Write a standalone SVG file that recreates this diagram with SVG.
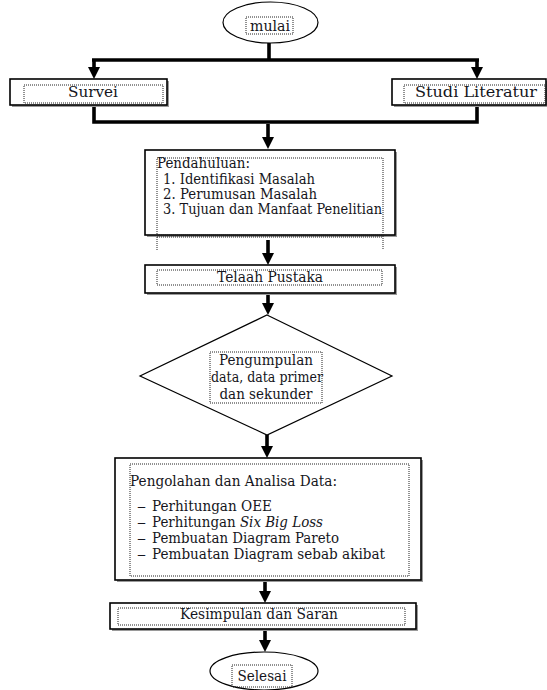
<svg xmlns="http://www.w3.org/2000/svg" width="547" height="690" viewBox="0 0 547 690">
<style>
.bg{fill:#fff}
.box{fill:#fff;stroke:#000;stroke-width:1.6}
.sh{fill:#9a9a9a}
.ell{fill:#fff;stroke:#000;stroke-width:1.2}
.dot{fill:none;stroke:#222;stroke-width:1;stroke-dasharray:1 1}
.t{font-family:"DejaVu Serif","Liberation Serif",serif;font-size:14px;fill:#151520}
.c{text-anchor:middle}
.conn{fill:none;stroke:#000;stroke-width:3.6;stroke-linejoin:miter}
.ar{fill:none;stroke:#000;stroke-width:3.6;marker-end:url(#ah)}
</style>
<defs>
<marker id="ah" markerUnits="userSpaceOnUse" viewBox="0 0 12 12" markerWidth="12" markerHeight="12" refX="8" refY="6" orient="auto">
<path d="M0,0 L12,6 L0,12 z" fill="#000"/>
</marker>
</defs>
<rect class="bg" x="0" y="0" width="547" height="690"/>

<g id="connectors">
<path class="conn" d="M269,43 V60"/>
<path class="conn" d="M92,60 H479"/>
<path class="ar" d="M94,60 V75"/>
<path class="ar" d="M477,60 V75"/>
<path class="conn" d="M94,105 V122 H477 V105"/>
<path class="ar" d="M268,124 V145"/>
<path class="ar" d="M268,240 V261"/>
<path class="ar" d="M268,294 V311"/>
<path class="ar" d="M267,435 V454"/>
<path class="ar" d="M265,581 V599"/>
<path class="ar" d="M265,630 V648"/>
</g>

<g id="mulai">
<ellipse class="ell" cx="270.5" cy="22.5" rx="47.5" ry="20.5"/>
<rect class="dot" x="246" y="17" width="47" height="17"/>
<text class="t c" x="270" y="31" textLength="40" lengthAdjust="spacingAndGlyphs">mulai</text>
</g>

<g id="survei">
<rect class="sh" x="12" y="81" width="157" height="26"/>
<rect class="box" x="10" y="79" width="157" height="26"/>
<rect class="dot" x="24" y="85" width="139" height="18"/>
<text class="t c" x="93" y="97" textLength="50" lengthAdjust="spacingAndGlyphs">Survei</text>
</g>

<g id="studi">
<rect class="sh" x="394" y="81" width="154" height="26"/>
<rect class="box" x="392" y="79" width="154" height="26"/>
<rect class="dot" x="404" y="85" width="141" height="18"/>
<text class="t c" x="476" y="97" textLength="122" lengthAdjust="spacingAndGlyphs">Studi Literatur</text>
</g>

<g id="pendahuluan">
<rect class="sh" x="147" y="152" width="250" height="85"/>
<rect class="box" x="145" y="150" width="250" height="85"/>
<path class="dot" d="M157,250 V158 H383 V250 M157,235 H383 M157,237 H383"/>
<text class="t" x="157" y="168" textLength="93" lengthAdjust="spacingAndGlyphs">Pendahuluan:</text>
<text class="t" x="163" y="184" textLength="152" lengthAdjust="spacingAndGlyphs">1. Identifikasi Masalah</text>
<text class="t" x="163" y="199" textLength="154" lengthAdjust="spacingAndGlyphs">2. Perumusan Masalah</text>
<text class="t" x="163" y="214" textLength="219" lengthAdjust="spacingAndGlyphs">3. Tujuan dan Manfaat Penelitian</text>
</g>

<g id="telaah">
<rect class="sh" x="147" y="267" width="250" height="28"/>
<rect class="box" x="145" y="265" width="250" height="28"/>
<rect class="dot" x="157" y="270" width="225" height="15"/>
<text class="t c" x="270" y="282" textLength="106" lengthAdjust="spacingAndGlyphs">Telaah Pustaka</text>
</g>

<g id="pengumpulan">
<polygon points="267,315 392,376 267,435 140,376" fill="#fff" stroke="#000" stroke-width="1.2"/>
<rect class="dot" x="210" y="352" width="112" height="51"/>
<text class="t c" x="266" y="365" textLength="94" lengthAdjust="spacingAndGlyphs">Pengumpulan</text>
<text class="t c" x="267" y="382" textLength="112" lengthAdjust="spacingAndGlyphs">data, data primer</text>
<text class="t c" x="266" y="399" textLength="93" lengthAdjust="spacingAndGlyphs">dan sekunder</text>
</g>

<g id="pengolahan">
<rect class="sh" x="117" y="460" width="306" height="122"/>
<rect class="box" x="115" y="458" width="306" height="122"/>
<rect class="dot" x="130" y="464" width="279" height="112"/>
<text class="t" x="130" y="486" textLength="207" lengthAdjust="spacingAndGlyphs">Pengolahan dan Analisa Data:</text>
<text class="t" x="137" y="511" textLength="9" lengthAdjust="spacingAndGlyphs">–</text>
<text class="t" x="152" y="511" textLength="120" lengthAdjust="spacingAndGlyphs">Perhitungan OEE</text>
<text class="t" x="137" y="527" textLength="9" lengthAdjust="spacingAndGlyphs">–</text>
<text class="t" x="152" y="527" textLength="171" lengthAdjust="spacingAndGlyphs">Perhitungan <tspan font-style="italic">Six Big Loss</tspan></text>
<text class="t" x="137" y="543" textLength="9" lengthAdjust="spacingAndGlyphs">–</text>
<text class="t" x="152" y="543" textLength="187" lengthAdjust="spacingAndGlyphs">Pembuatan Diagram Pareto</text>
<text class="t" x="137" y="559" textLength="9" lengthAdjust="spacingAndGlyphs">–</text>
<text class="t" x="152" y="559" textLength="233" lengthAdjust="spacingAndGlyphs">Pembuatan Diagram sebab akibat</text>
</g>

<g id="kesimpulan">
<rect class="sh" x="112" y="605" width="306" height="26"/>
<rect class="box" x="110" y="603" width="306" height="26"/>
<rect class="dot" x="118" y="608" width="287" height="17"/>
<text class="t c" x="259" y="619" textLength="158" lengthAdjust="spacingAndGlyphs">Kesimpulan dan Saran</text>
</g>

<g id="selesai">
<ellipse class="ell" cx="264" cy="671" rx="54" ry="19"/>
<rect class="dot" x="232" y="665" width="60" height="22"/>
<text class="t c" x="262" y="681" textLength="49" lengthAdjust="spacingAndGlyphs">Selesai</text>
</g>
</svg>
